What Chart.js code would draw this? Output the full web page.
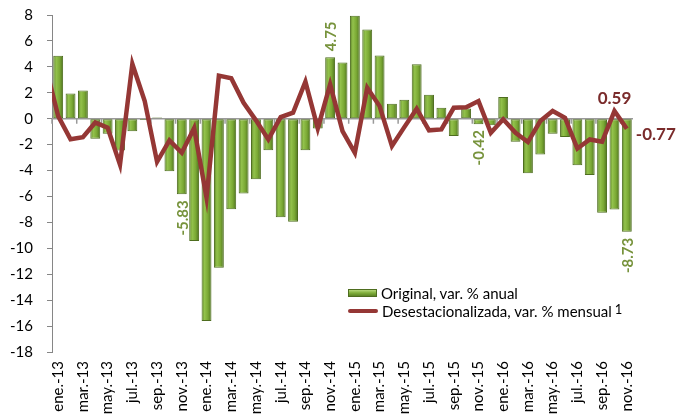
<!DOCTYPE html>
<html>
<head>
<meta charset="utf-8">
<script src="https://cdn.jsdelivr.net/npm/chart.js@4.4.1/dist/chart.umd.min.js"></script>
<style>
  body { margin: 0; background: #fff; }
  #wrap { position: relative; width: 685px; height: 419px; }
  .leg { position: absolute; left: 348px; display: flex; align-items: center; white-space: nowrap;
         font: 15px Lato, 'Open Sans', sans-serif; color: #000; }
  .sw-bar { width: 29px; height: 8px; margin-right: 4px; border: 1px solid #4e6d1f; box-sizing: border-box;
            background: linear-gradient(#b4d77a, #7fae3a 50%, #5d8426); }
  .sw-line { width: 30px; height: 4px; margin-right: 4px; background: #953735; border-radius: 2px; }
  .leg sup { font-size: 13px; margin-left: 3px; position: relative; top: -2px; }
</style>
</head>
<body>
<div id="wrap">
  <canvas id="c"></canvas>
  <div class="leg" style="top:284px"><span class="sw-bar"></span>Original, var. % anual</div>
  <div class="leg" style="top:302px"><span class="sw-line"></span>Desestacionalizada, var. % mensual<sup>1</sup></div>
</div>
<script>
// first category (dic.-12) is only there so the line enters from the left edge, it is hidden by the axis min
const meses = [
  'dic.-12',
  'ene.-13','feb.-13','mar.-13','abr.-13','may.-13','jun.-13','jul.-13','ago.-13','sep.-13','oct.-13','nov.-13','dic.-13',
  'ene.-14','feb.-14','mar.-14','abr.-14','may.-14','jun.-14','jul.-14','ago.-14','sep.-14','oct.-14','nov.-14','dic.-14',
  'ene.-15','feb.-15','mar.-15','abr.-15','may.-15','jun.-15','jul.-15','ago.-15','sep.-15','oct.-15','nov.-15','dic.-15',
  'ene.-16','feb.-16','mar.-16','abr.-16','may.-16','jun.-16','jul.-16','ago.-16','sep.-16','oct.-16','nov.-16'
]

const original = [
  null,
  4.85, 1.95, 2.17, -1.55, -1.17, -2.45, -0.97, -0.10, 0.10, -4.05, -5.83, -9.44,
  -15.6, -11.5, -6.98, -5.78, -4.68, -2.43, -7.6, -7.95, -2.43, -0.76, 4.75, 4.34,
  7.95, 6.88, 4.87, 1.15, 1.47, 4.2, 1.85, 0.84, -1.34, 0.79, -0.42, -0.5,
  1.67, -1.78, -4.2, -2.76, -1.16, -1.42, -3.6, -4.35, -7.25, -7.0, -8.73
]

const desest = [
  4.0,
  0.2, -1.59, -1.42, -0.3, -0.7, -3.55, 4.22, 1.36, -3.33, -1.68, -2.63, -0.72,
  -6.1, 3.32, 3.12, 1.23, -0.13, -1.6, 0.12, 0.46, 2.85, -0.75, 2.65, -0.96,
  -2.63, 2.39, 0.97, -2.11, -0.65, 0.77, -0.9, -0.83, 0.84, 0.89, 1.36, -1.09,
  -0.05, -1.09, -1.8, -0.18, 0.59, 0.07, -2.3, -1.6, -1.78, 0.59, -0.77
]

const yTicks = [8, 6, 4, 2, 0, -2, -4, -6, -8, -10, -12, -14, -16, -18]

// which points carry a value label
const etiquetasBarra = ['nov.-13', 'nov.-14', 'nov.-15', 'nov.-16']
const etiquetasLinea = ['oct.-16', 'nov.-16']

const FONT = "Lato, 'Open Sans', sans-serif"
const VERDE_TXT = '#77933c'
const ROJO_TXT = '#7a2b2b'

function barFill(ctx) {
  const chart = ctx.chart
  const xs = chart.scales.x
  if (!xs || !chart.chartArea) return '#7fae3a'
  const cx = xs.getPixelForValue(ctx.dataIndex)
  const w = 10
  const g = chart.ctx.createLinearGradient(cx - w / 2, 0, cx + w / 2, 0)
  g.addColorStop(0, '#5c8226')
  g.addColorStop(0.3, '#93c24c')
  g.addColorStop(0.65, '#7aa834')
  g.addColorStop(1, '#4d711f')
  return g
}

const ejeCero = {
  id: 'ejeCero',
  beforeDatasetsDraw(chart) {
    const { ctx, scales: { x, y }, chartArea } = chart
    const y0 = y.getPixelForValue(0)
    ctx.save()
    ctx.strokeStyle = '#9a9a9a'
    ctx.lineWidth = 1.5
    ctx.beginPath()
    ctx.moveTo(chartArea.left, y0)
    ctx.lineTo(chartArea.right, y0)
    const half = (x.getPixelForValue(2) - x.getPixelForValue(1)) / 2
    for (let i = 1; i < meses.length; i += 2) {
      const px = x.getPixelForValue(i) - half
      ctx.moveTo(px, y0)
      ctx.lineTo(px, y0 + 5)
    }
    ctx.stroke()
    ctx.restore()
  }
}

const valores = {
  id: 'valores',
  afterDatasetsDraw(chart) {
    const { ctx } = chart
    const barMeta = chart.getDatasetMeta(0)
    const lineMeta = chart.getDatasetMeta(1)
    ctx.save()
    ctx.font = 'bold 15px ' + FONT
    ctx.fillStyle = VERDE_TXT
    ctx.textBaseline = 'middle'
    etiquetasBarra.forEach(m => {
      const i = meses.indexOf(m)
      const el = barMeta.data[i]
      const v = original[i]
      ctx.save()
      if (v >= 0) {
        ctx.translate(el.x, el.y - 6)
        ctx.rotate(-Math.PI / 2)
        ctx.textAlign = 'left'
      } else {
        ctx.translate(el.x, el.y + 6)
        ctx.rotate(-Math.PI / 2)
        ctx.textAlign = 'right'
      }
      ctx.fillText(v.toFixed(2), 0, 1)
      ctx.restore()
    })
    ctx.font = 'bold 17px ' + FONT
    ctx.fillStyle = ROJO_TXT
    const a = meses.indexOf(etiquetasLinea[0])
    const pa = lineMeta.data[a]
    ctx.textAlign = 'center'
    ctx.fillText(desest[a].toFixed(2), pa.x, pa.y - 13)
    const b = meses.indexOf(etiquetasLinea[1])
    const pb = lineMeta.data[b]
    ctx.textAlign = 'left'
    ctx.fillText(desest[b].toFixed(2), pb.x + 9, pb.y + 6)
    ctx.restore()
  }
}

new Chart(document.getElementById('c'), {
  type: 'bar',
  data: {
    labels: meses,
    datasets: [
      {
        label: 'Original, var. % anual',
        data: original,
        backgroundColor: barFill,
        borderColor: '#4e6d1f',
        borderWidth: 1,
        borderSkipped: false,
        barPercentage: 0.8,
        categoryPercentage: 1,
        order: 2
      },
      {
        type: 'line',
        label: 'Desestacionalizada, var. % mensual',
        data: desest,
        borderColor: '#953735',
        borderWidth: 4.5,
        pointRadius: 0,
        tension: 0,
        borderJoinStyle: 'miter',
        order: 1
      }
    ]
  },
  options: {
    responsive: true,
    maintainAspectRatio: false,
    animation: false,
    layout: { padding: { top: 15, right: 52, left: 0, bottom: 0 } },
    plugins: { legend: { display: false }, tooltip: { enabled: false } },
    scales: {
      x: {
        min: 'ene.-13',
        offset: true,
        grid: { display: false, drawTicks: false },
        border: { display: false },
        ticks: {
          autoSkip: false,
          minRotation: 90,
          maxRotation: 90,
          padding: 9,
          color: '#000',
          font: { family: FONT, size: 15 },
          callback(value) {
            return (value - 1) % 2 === 0 ? this.getLabelForValue(value) : ''
          }
        },
        afterFit(s) { s.height = 67 }
      },
      y: {
        min: yTicks[yTicks.length - 1],
        max: yTicks[0],
        grid: { drawOnChartArea: false, color: '#868686', tickLength: 5 },
        border: { color: '#868686', width: 1 },
        afterBuildTicks(s) { s.ticks = yTicks.map(v => ({ value: v })) },
        ticks: { color: '#000', padding: 14, font: { family: FONT, size: 15 } },
        afterFit(s) { s.width = 52; s.paddingTop = 0; s.paddingBottom = 0 }
      }
    }
  },
  plugins: [ejeCero, valores]
})
</script>
</body>
</html>
